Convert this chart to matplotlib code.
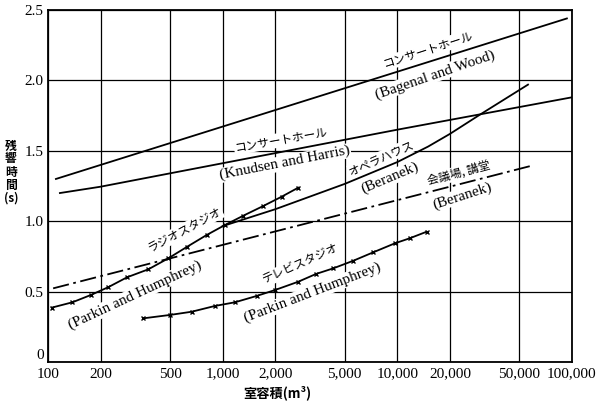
import matplotlib
matplotlib.use("Agg")
import matplotlib.pyplot as plt
from matplotlib.ticker import FixedLocator, FixedFormatter, NullLocator

# room volume (m3) vs reverberation time (s)
bagenal_x = [111, 93500]
bagenal_y = [1.30, 2.44]

knudsen_x = [117, 200, 500, 10000, 100000]
knudsen_y = [1.20, 1.245, 1.34, 1.65, 1.88]

opera_x = [1000, 2000, 5000, 10000, 15000, 20000, 30000, 56000]
opera_y = [0.965, 1.085, 1.265, 1.42, 1.53, 1.62, 1.76, 1.97]

conf_x = [107, 57900]
conf_y = [0.523, 1.392]

radio_x = [105, 138, 176, 221, 284, 375, 488, 627, 810, 1031, 1312, 1708, 2176, 2708]
radio_y = [0.386, 0.424, 0.476, 0.531, 0.602, 0.658, 0.736, 0.819, 0.902, 0.973,
           1.039, 1.108, 1.174, 1.238]

tv_x = [351, 499, 665, 903, 1176, 1565, 1993, 2708, 3420, 4296, 5592, 7280, 9690, 11800, 14700]
tv_y = [0.310, 0.334, 0.357, 0.398, 0.424, 0.469, 0.511, 0.570, 0.625, 0.665, 0.719,
        0.779, 0.843, 0.879, 0.925]

x_ticks = [100, 200, 500, 1000, 2000, 5000, 10000, 20000, 50000, 100000]
x_labels = ["100", "200", "500", "1,000", "2,000", "5,000", "10,000", "20,000", "50,000", "100,000"]
y_ticks = [0, 0.5, 1.0, 1.5, 2.0, 2.5]
y_labels = ["0", "0.5", "1.0", "1.5", "2.0", "2.5"]

jp = "Noto Sans CJK JP"
serif = "Liberation Serif"

fig = plt.figure(figsize=(6.0, 4.07), dpi=100)
ax = fig.add_axes([0.08, 0.1106, 0.8733, 0.8648])
ax.set_xscale("log")
ax.set_xlim(100, 100000)
ax.set_ylim(0, 2.5)

ax.xaxis.set_major_locator(FixedLocator(x_ticks))
ax.xaxis.set_major_formatter(FixedFormatter(x_labels))
ax.xaxis.set_minor_locator(NullLocator())
ax.yaxis.set_major_locator(FixedLocator(y_ticks))
ax.yaxis.set_major_formatter(FixedFormatter(y_labels))
ax.tick_params(axis="x", length=0, labelsize=11, pad=4)
ax.tick_params(axis="y", length=0, labelsize=11, pad=3)
for lab in ax.get_xticklabels() + ax.get_yticklabels():
    lab.set_fontfamily(serif)
ax.get_yticklabels()[0].set_va("bottom")
ax.grid(True, color="black", lw=0.9, zorder=1)
ax.set_axisbelow(True)
for s in ax.spines.values():
    s.set_linewidth(1.3)

lw = 1.3
ax.plot(bagenal_x, bagenal_y, color="black", lw=lw, zorder=3)
ax.plot(knudsen_x, knudsen_y, color="black", lw=lw, zorder=3)
ax.plot(opera_x, opera_y, color="black", lw=lw, zorder=3)
ax.plot(conf_x, conf_y, color="black", lw=lw, ls=(0, (9, 2.5, 1.5, 2.5)), zorder=3)
ax.plot(radio_x, radio_y, color="black", lw=lw, marker="x", ms=3.5, mew=1, zorder=3)
ax.plot(tv_x, tv_y, color="black", lw=lw, marker="x", ms=3.5, mew=1, zorder=3)

box = dict(facecolor="white", edgecolor="none", pad=0.5)

labels = [
    ("コンサートホール", 14960, 2.216, 18, jp, 8.5),
    ("(Bagenal and Wood)", 16400, 2.04, 19, serif, 11),
    ("コンサートホール", 2158, 1.577, 10, jp, 8.5),
    ("(Knudsen and Harris)", 2275, 1.413, 11, serif, 11),
    ("オペラハウス", 8170, 1.449, 24, jp, 8.5),
    ("(Beranek)", 9080, 1.307, 23, serif, 11),
    ("会議場, 講堂", 22560, 1.342, 15, jp, 8.5),
    ("(Beranek)", 23450, 1.18, 18, serif, 11),
    ("ラジオスタジオ", 608, 0.9375, 28, jp, 8.5),
    ("(Parkin and Humphrey)", 315, 0.476, 25, serif, 11),
    ("テレビスタジオ", 2806, 0.696, 24, jp, 8.5),
    ("(Parkin and Humphrey)", 3245, 0.49, 21, serif, 11),
]
for text, x, y, rot, fam, size in labels:
    ax.text(x, y, text, rotation=rot, rotation_mode="anchor", ha="center", va="center",
            fontsize=size, family=fam, bbox=box, zorder=2)

fig.text(11 / 600, 1 - 172 / 407, "残\n響\n時\n間\n(s)", ha="center", va="center",
         fontsize=8.5, family=[jp, "DejaVu Sans"], linespacing=1.0, fontweight="bold")
fig.text(277 / 600, 1 - 393 / 407, "室容積(m³)", ha="center", va="center",
         fontsize=9.5, family=[jp, "DejaVu Sans"], fontweight="bold")

fig.savefig("out.png", dpi=100, facecolor="white")
